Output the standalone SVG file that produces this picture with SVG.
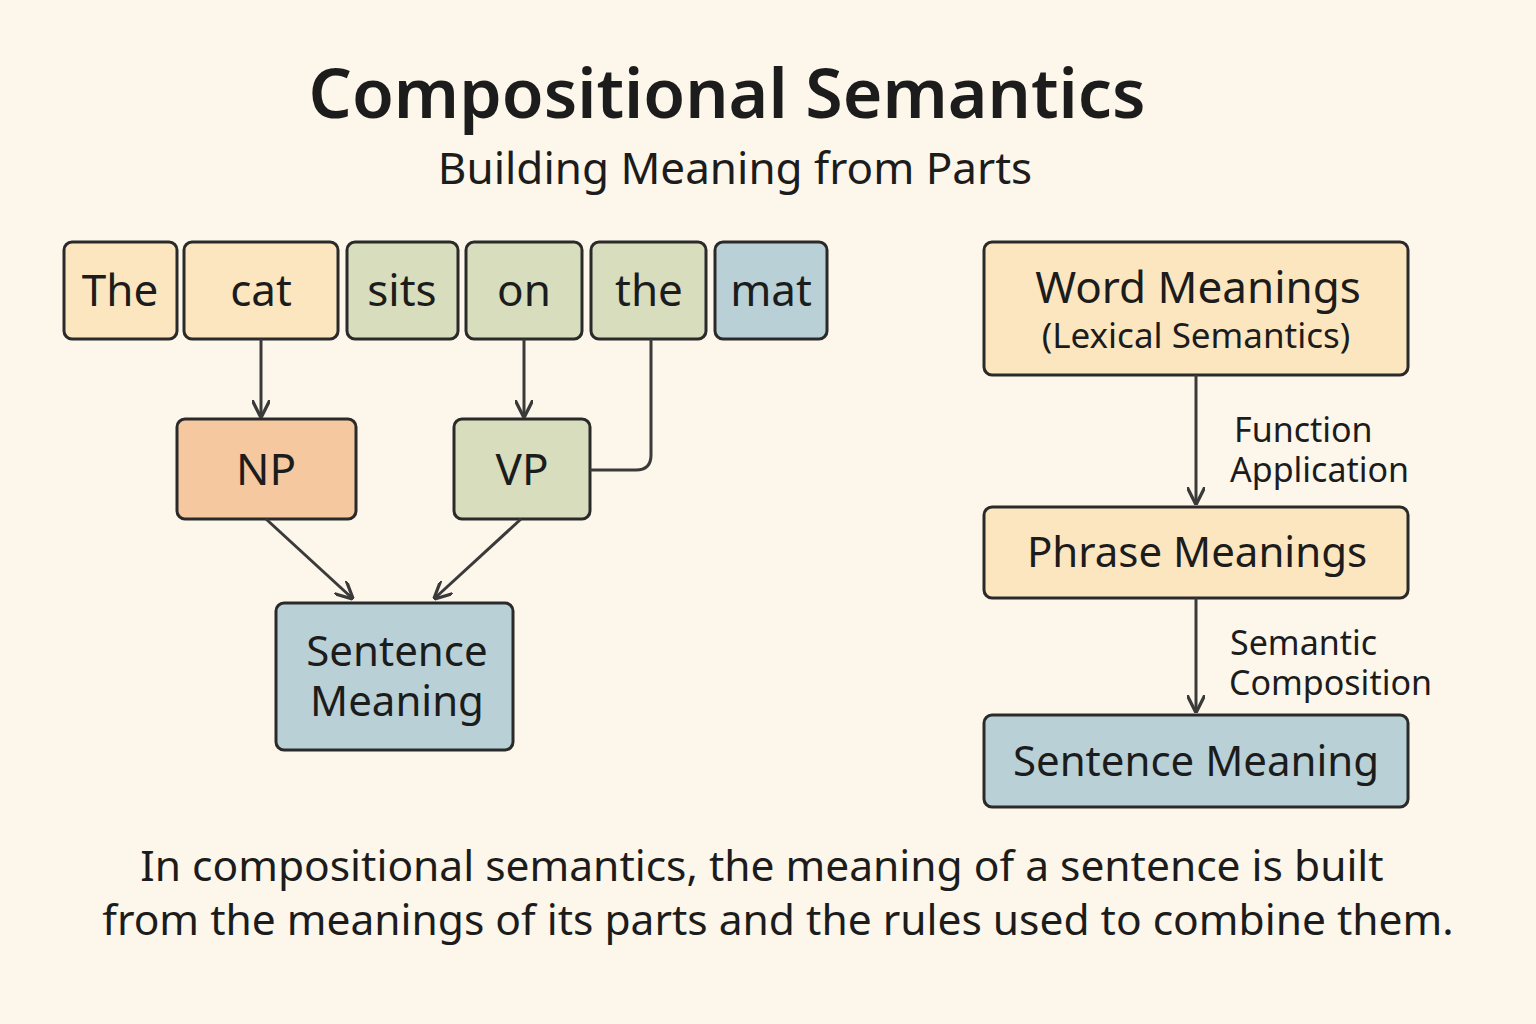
<svg xmlns="http://www.w3.org/2000/svg" width="1536" height="1024" viewBox="0 0 1536 1024">
<style>
text{font-family:"Noto Sans","Open Sans",sans-serif;fill:#1c1c1c}
.b{stroke:#2a2a2a;stroke-width:3}
.y{fill:#fbe6bf}.g{fill:#d7ddbd}.bl{fill:#b9d0d6}.o{fill:#f5c89f}
.w{font-size:44px;text-anchor:middle}
.c{stroke:#3a3a3a;stroke-width:3;fill:none;marker-end:url(#a)}
.l{font-size:34px}
</style>
<defs><marker id="a" viewBox="0 0 10 10" refX="9" refY="5" markerWidth="6" markerHeight="6" orient="auto" markerUnits="strokeWidth"><path d="M0,0 L10,5 L0,10" fill="none" stroke="#3a3a3a" stroke-width="1.8"/></marker></defs>
<rect width="1536" height="1024" fill="#fdf6ea"/>
<text x="727" y="118" font-size="68" font-weight="600" text-anchor="middle">Compositional Semantics</text>
<text x="735" y="184" font-size="44" text-anchor="middle">Building Meaning from Parts</text>
<g id="w-the1"><rect class="b y" x="64" y="242" width="113" height="97" rx="8"/><text class="w" x="120" y="306">The</text></g>
<g id="w-cat"><rect class="b y" x="184" y="242" width="154" height="97" rx="8"/><text class="w" x="261" y="306">cat</text></g>
<g id="w-sits"><rect class="b g" x="347" y="242" width="111" height="97" rx="8"/><text class="w" x="402" y="306">sits</text></g>
<g id="w-on"><rect class="b g" x="466" y="242" width="116" height="97" rx="8"/><text class="w" x="524" y="306">on</text></g>
<g id="w-the2"><rect class="b g" x="591" y="242" width="115" height="97" rx="8"/><text class="w" x="649" y="306">the</text></g>
<g id="w-mat"><rect class="b bl" x="715" y="242" width="112" height="97" rx="8"/><text class="w" x="771" y="306">mat</text></g>
<g id="np"><rect class="b o" x="177" y="419" width="179" height="100" rx="8"/><text class="w" x="266" y="485">NP</text></g>
<g id="vp"><rect class="b g" x="454" y="419" width="136" height="100" rx="8"/><text class="w" x="522" y="485">VP</text></g>
<g id="sm"><rect class="b bl" x="276" y="603" width="237" height="147" rx="8"/><text x="397" y="666" font-size="42" text-anchor="middle">Sentence</text><text x="397" y="716" font-size="42" text-anchor="middle">Meaning</text></g>
<g id="wm"><rect class="b y" x="984" y="242" width="424" height="133" rx="8"/><text x="1198" y="303" font-size="44" text-anchor="middle">Word Meanings</text><text x="1196" y="348" font-size="35" text-anchor="middle">(Lexical Semantics)</text></g>
<g id="pm"><rect class="b y" x="984" y="507" width="424" height="91" rx="8"/><text x="1197" y="567" font-size="42" text-anchor="middle">Phrase Meanings</text></g>
<g id="sm2"><rect class="b bl" x="984" y="715" width="424" height="92" rx="8"/><text x="1196" y="776" font-size="42" text-anchor="middle">Sentence Meaning</text></g>
<g id="connectors">
<path class="c" d="M261,339 V416"/>
<path class="c" d="M524,339 V416"/>
<path class="c" d="M651,339 V455 Q651,470 636,470 H590" style="marker-end:none"/>
<path class="c" d="M266,519 L352,598"/>
<path class="c" d="M521,519 L435,598"/>
<path class="c" d="M1196,375 V503"/>
<path class="c" d="M1196,598 V711"/>
</g>
<text class="l" x="1234" y="442">Function</text>
<text class="l" x="1230" y="482">Application</text>
<text class="l" x="1230" y="655">Semantic</text>
<text class="l" x="1229" y="695">Composition</text>
<text x="762" y="881" font-size="42.5" text-anchor="middle">In compositional semantics, the meaning of a sentence is built</text>
<text x="778" y="935" font-size="42.5" text-anchor="middle">from the meanings of its parts and the rules used to combine them.</text>
</svg>
